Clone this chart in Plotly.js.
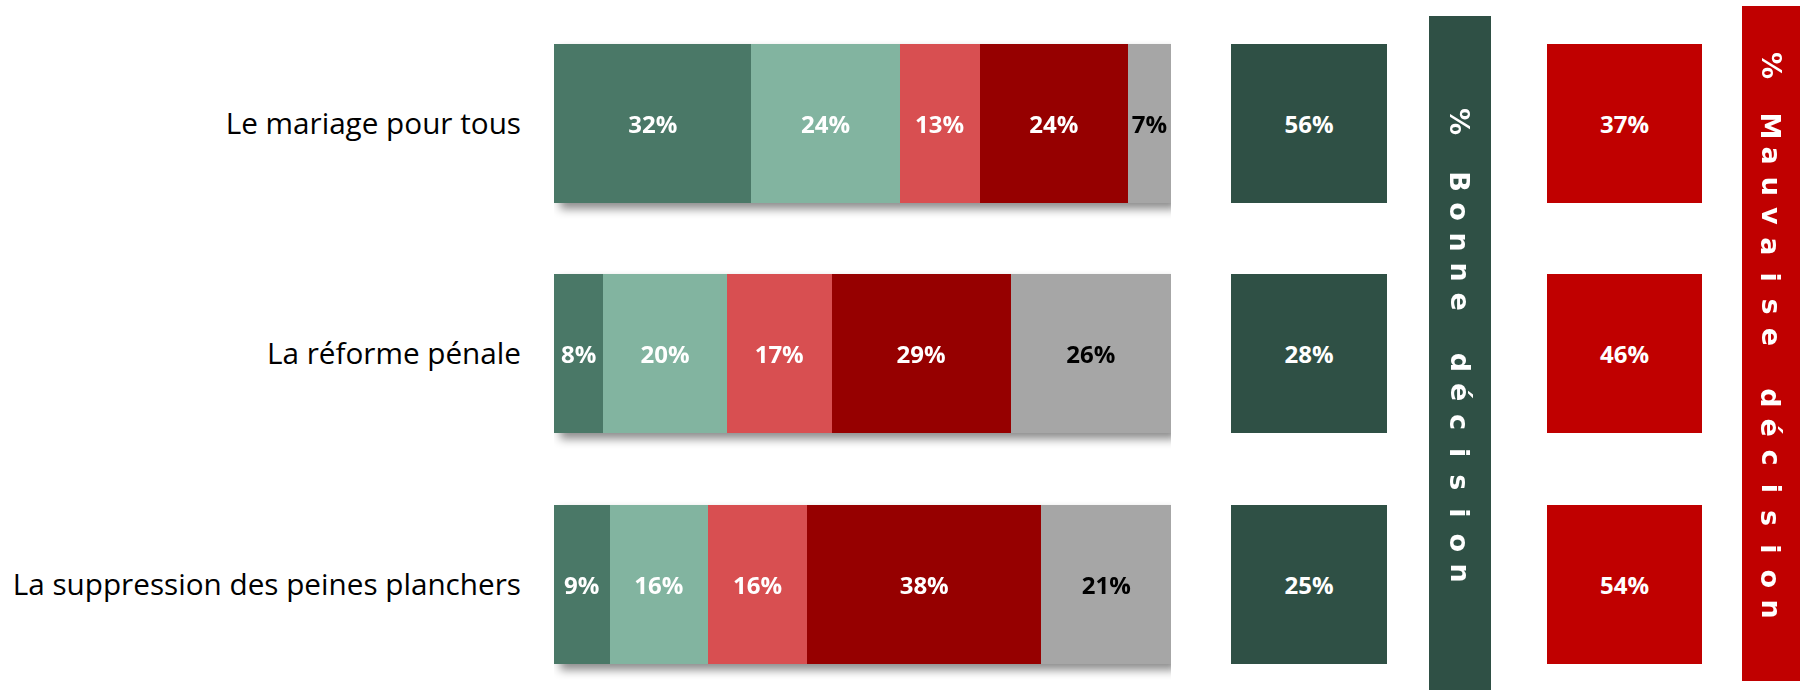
<!DOCTYPE html>
<html>
<head>
<meta charset="utf-8">
<script src="https://cdn.plot.ly/plotly-3.0.1.min.js"></script>
<style>
  html, body { margin: 0; padding: 0; background: #ffffff; }
  #chart { width: 1800px; height: 690px; }
  .subplot.xy .barlayer { filter: drop-shadow(6px 6px 5px rgba(0,0,0,0.45)); }
</style>
</head>
<body>
<div id="chart"></div>
<script>
// ---- data ----
const categories = ['Le mariage pour tous', 'La réforme pénale', 'La suppression des peines planchers'];
const seriesNames = ['Très bonne décision', 'Plutôt bonne décision', 'Plutôt mauvaise décision', 'Très mauvaise décision', 'Ne se prononce pas'];
const tresBonne = [32, 8, 9];
const plutotBonne = [24, 20, 16];
const plutotMauvaise = [13, 17, 16];
const tresMauvaise = [24, 29, 38];
const nsp = [7, 26, 21];
const bonneTotal = [56, 28, 25];
const mauvaiseTotal = [37, 46, 54];
const bonneTitle = '% Bonne décision';
const mauvaiseTitle = '% Mauvaise décision';

// ---- styles ----
const seriesColors = ['#4A7867', '#82B4A0', '#D84F51', '#960000', '#A6A6A6'];
const seriesTextColors = ['#ffffff', '#ffffff', '#ffffff', '#ffffff', '#000000'];
const goodColor = '#2F5045';
const badColor = '#C00000';
const W = 1800, H = 690;
const labelFont = 'Open Sans, Roboto, sans-serif';

const pct = v => v + '%';
const stackSeries = [tresBonne, plutotBonne, plutotMauvaise, tresMauvaise, nsp];

const traces = stackSeries.map((vals, i) => ({
  type: 'bar',
  orientation: 'h',
  name: seriesNames[i],
  y: categories,
  x: vals,
  text: vals.map(pct),
  textposition: 'inside',
  insidetextanchor: 'middle',
  constraintext: 'none',
  textfont: { family: labelFont, size: 24, weight: 'bold', color: seriesTextColors[i] },
  marker: { color: seriesColors[i], line: { width: 0 } },
  xaxis: 'x', yaxis: 'y',
  hoverinfo: 'skip'
}));

// summary boxes: equal-sized boxes carrying the totals
traces.push({
  type: 'bar', orientation: 'h', name: bonneTitle,
  y: categories, x: bonneTotal.map(() => 1),
  text: bonneTotal.map(pct),
  textposition: 'inside', insidetextanchor: 'middle', constraintext: 'none',
  textfont: { family: labelFont, size: 24, weight: 'bold', color: '#ffffff' },
  marker: { color: goodColor },
  xaxis: 'x2', yaxis: 'y', hoverinfo: 'skip'
});
traces.push({
  type: 'bar', orientation: 'h', name: mauvaiseTitle,
  y: categories, x: mauvaiseTotal.map(() => 1),
  text: mauvaiseTotal.map(pct),
  textposition: 'inside', insidetextanchor: 'middle', constraintext: 'none',
  textfont: { family: labelFont, size: 24, weight: 'bold', color: '#ffffff' },
  marker: { color: badColor },
  xaxis: 'x3', yaxis: 'y', hoverinfo: 'skip'
});

// vertical band titles, letter-spaced, rotated
function bandLetters(str, xPx, yStartPx, pitch) {
  return Array.from(str).map((ch, i) => ({
    text: ch === ' ' ? '' : ch,
    xref: 'paper', yref: 'paper',
    x: xPx / W, y: 1 - (yStartPx + i * pitch) / H,
    xanchor: 'center', yanchor: 'middle',
    textangle: 90, showarrow: false,
    font: { family: 'DejaVu Sans, sans-serif', size: 27, weight: 'bold', color: '#ffffff' }
  })).filter(a => a.text !== '');
}

const layout = {
  width: W, height: H,
  margin: { l: 0, r: 0, t: 0, b: 0, pad: 0 },
  paper_bgcolor: '#ffffff', plot_bgcolor: 'rgba(0,0,0,0)',
  showlegend: false,
  barmode: 'stack',
  bargap: 0.31,
  xaxis: { domain: [554 / W, 1171 / W], range: [0, 100], showgrid: false, zeroline: false, showticklabels: false, showline: false, fixedrange: true },
  xaxis2: { domain: [1231 / W, 1387 / W], range: [0, 1], anchor: 'y', showgrid: false, zeroline: false, showticklabels: false, showline: false, fixedrange: true },
  xaxis3: { domain: [1547 / W, 1702 / W], range: [0, 1], anchor: 'y', showgrid: false, zeroline: false, showticklabels: false, showline: false, fixedrange: true },
  yaxis: {
    type: 'category', domain: [0, 1 - 8 / H], range: [2.458, -0.5],
    showgrid: false, zeroline: false, showline: false, ticks: '',
    ticklabelstandoff: 32, automargin: false,
    tickfont: { family: labelFont, size: 29.7, color: '#000000' },
    fixedrange: true
  },
  shapes: [
    { type: 'rect', xref: 'paper', yref: 'paper', x0: 1429 / W, x1: 1491 / W, y0: 0, y1: 1 - 16 / H, fillcolor: goodColor, line: { width: 0 }, layer: 'below' },
    { type: 'rect', xref: 'paper', yref: 'paper', x0: 1742 / W, x1: 1, y0: 1 - 681 / H, y1: 1 - 6 / H, fillcolor: badColor, line: { width: 0 }, layer: 'below' }
  ],
  annotations: bandLetters(bonneTitle, 1460, 121, 30.1).concat(bandLetters(mauvaiseTitle, 1771, 65, 30.2))
};

Plotly.newPlot('chart', traces, layout, { displayModeBar: false, staticPlot: true });
</script>
</body>
</html>
